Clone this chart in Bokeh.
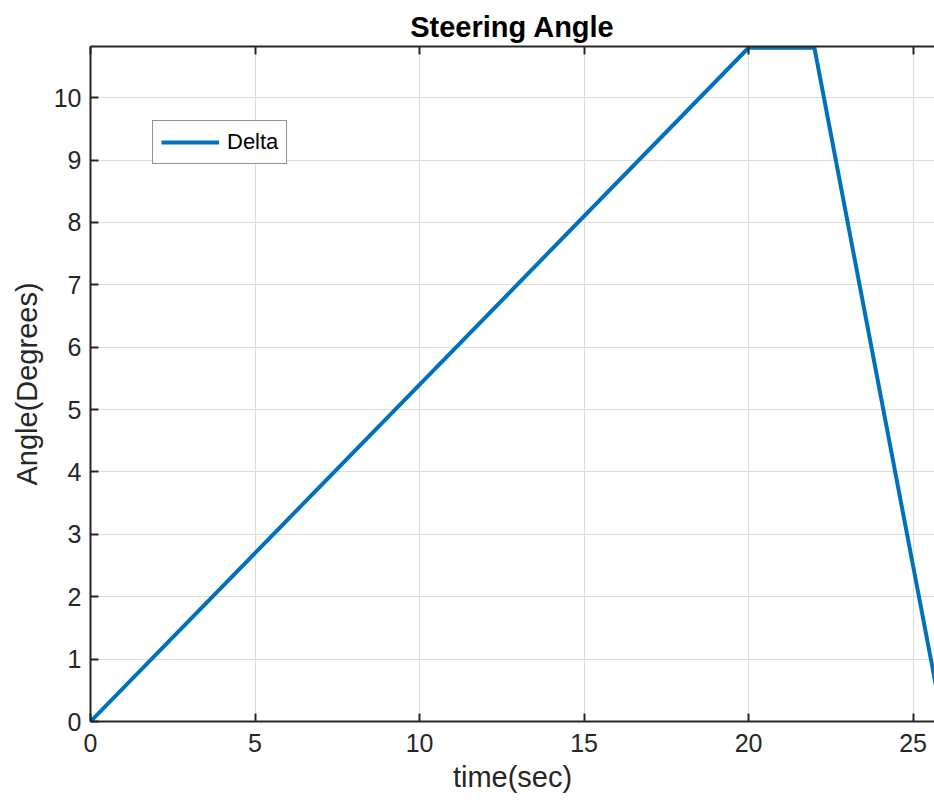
from bokeh.plotting import figure
from bokeh.models import Range1d, LinearAxis, FixedTicker, Legend, LegendItem, CustomLabelingPolicy
from bokeh.embed import file_html
from bokeh.resources import INLINE

# Data
time_sec = [0, 20, 22, 25.9]
delta_deg = [0, 10.8, 10.8, 0]
x_ticks = [0, 5, 10, 15, 20, 25]
y_ticks = [0, 1, 2, 3, 4, 5, 6, 7, 8, 9, 10]

FONT = "Liberation Sans"
AX = "#262626"

p = figure(width=934, height=805, output_backend="svg", toolbar_location=None,
           x_range=Range1d(0, 25.65), y_range=Range1d(0, 10.82),
           min_border_left=90, min_border_right=0, min_border_top=46,
           min_border_bottom=84, x_axis_location="below")
p.outline_line_color = None
p.background_fill_color = "white"
p.border_fill_color = "white"

p.title.text = "Steering Angle"
p.title.text_font = FONT
p.title.text_font_size = "29px"
p.title.text_font_style = "bold"
p.title.text_color = "black"
p.title.align = "center"
p.title.offset = 0
p.title.standoff = 7

r = p.line(time_sec, delta_deg, line_width=4, line_color="#0072BD")

for ax in (p.xaxis[0], p.yaxis[0]):
    ax.axis_line_color = AX
    ax.axis_line_width = 2
    ax.major_tick_line_color = AX
    ax.major_tick_line_width = 2
    ax.major_tick_in = 8
    ax.major_tick_out = 0
    ax.minor_tick_line_color = None
    ax.major_label_text_font = FONT
    ax.major_label_text_font_size = "25px"
    ax.major_label_text_color = AX
    ax.axis_label_text_font = FONT
    ax.axis_label_text_font_size = "29px"
    ax.axis_label_text_font_style = "normal"
    ax.axis_label_text_color = AX

p.xaxis[0].ticker = FixedTicker(ticks=x_ticks)
p.yaxis[0].ticker = FixedTicker(ticks=y_ticks)
p.xaxis[0].axis_label = "time(sec)"
p.yaxis[0].axis_label = "Angle(Degrees)"
p.xaxis[0].major_label_standoff = 12
p.yaxis[0].major_label_standoff = 9
p.xaxis[0].axis_label_standoff = 6
p.yaxis[0].axis_label_standoff = 8

top = LinearAxis(ticker=FixedTicker(ticks=x_ticks))
top.axis_line_color = AX
top.axis_line_width = 2
top.major_tick_line_color = AX
top.major_tick_line_width = 2
top.major_tick_in = 8
top.major_tick_out = 0
top.minor_tick_line_color = None
top.major_label_text_font_size = "0px"
top.major_label_standoff = 0
top.major_label_policy = CustomLabelingPolicy(code="""
    for (const i of Array.from(indices)) indices.unset(i)
    return indices
""")
p.add_layout(top, "above")

p.xgrid.ticker = FixedTicker(ticks=x_ticks)
p.ygrid.ticker = FixedTicker(ticks=y_ticks)
for g in (p.xgrid[0], p.ygrid[0]):
    g.grid_line_color = "#dcdcdc"
    g.grid_line_width = 1

legend = Legend(items=[LegendItem(label="Delta", renderers=[r])],
                location=(62, 557))
legend.label_text_font = FONT
legend.label_text_font_size = "22px"
legend.label_text_color = "black"
legend.border_line_color = "#262626"
legend.border_line_width = 1
legend.glyph_width = 58
legend.glyph_height = 20
legend.label_height = 22
legend.padding = 8
legend.margin = 0
legend.spacing = 0
legend.label_standoff = 8
legend.background_fill_alpha = 1
p.add_layout(legend, "center")

open("out.html", "w").write(file_html(p, INLINE))
